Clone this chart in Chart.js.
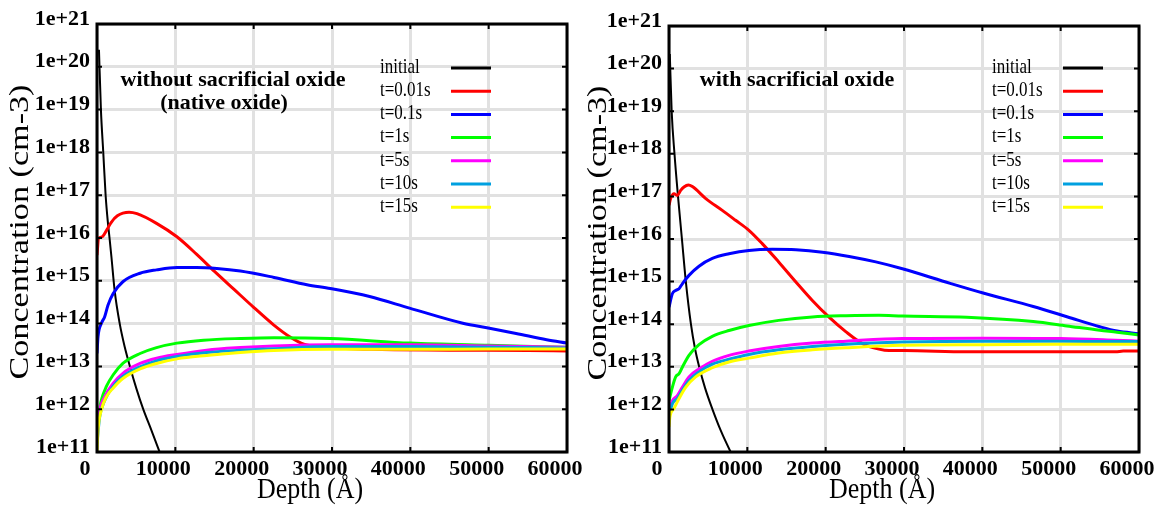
<!DOCTYPE html>
<html>
<head>
<meta charset="utf-8">
<title>Concentration vs depth</title>
<script src="https://cdn.jsdelivr.net/npm/chart.js@4.4.1/dist/chart.umd.min.js"></script>
<style>
  html, body { margin: 0; padding: 0; background: #fff; }
  #wrap { position: relative; width: 1157px; height: 506px; }
  #wrap canvas { position: absolute; top: 0; }
  #native { left: 0; }
  #sacrificial { left: 578px; }
</style>
</head>
<body>
<div id="wrap">
  <canvas id="native" width="592" height="506"></canvas>
  <canvas id="sacrificial" width="579" height="506"></canvas>
</div>
<script>
const serif = "'Liberation Serif', 'Times New Roman', serif";

const seriesLabels = ['initial', 't=0.01s', 't=0.1s', 't=1s', 't=5s', 't=10s', 't=15s'];
const seriesColors = ['#000000', '#ff0000', '#0000ff', '#00ff00', '#ff00ff', '#00a0e0', '#ffff00'];

const depthTicks = [0, 10000, 20000, 30000, 40000, 50000, 60000];
const concTicks = [1e11, 1e12, 1e13, 1e14, 1e15, 1e16, 1e17, 1e18, 1e19, 1e20, 1e21];
const concTickLabels = ['1e+11', '1e+12', '1e+13', '1e+14', '1e+15', '1e+16', '1e+17', '1e+18', '1e+19', '1e+20', '1e+21'];

// --- without sacrificial oxide (native oxide) ---
const natInitialDepth = [250, 500, 800, 1100, 1400, 1600, 1850, 2250, 2900, 3550, 4200, 5050, 5900, 6950, 7950, 8500];
const natInitialConc  = [2.5e20, 1e19, 1e18, 1e17, 2.2e16, 1e16, 3.5e15, 6e14, 1e14, 2.8e13, 1e13, 2.95e12, 1e12, 3.2e11, 1.05e11, 6e10];

const natT001Depth = [0, 200, 600, 900, 1300, 1800, 2600, 4100, 5100, 7600, 10200, 12700, 15000, 17500, 20000, 22500, 24700, 26400, 29000, 35000, 45000, 55000, 60000];
const natT001Conc  = [4e15, 9.8e15, 1.05e16, 1.2e16, 1.6e16, 2.3e16, 3.3e16, 4e16, 3.7e16, 2.2e16, 1.07e16, 4.2e15, 1.66e15, 6.3e14, 2.4e14, 9.5e13, 4.8e13, 3.3e13, 2.8e13, 2.5e13, 2.4e13, 2.35e13, 2.3e13];

const natT01Depth = [0, 130, 550, 980, 1400, 2050, 3300, 5500, 7600, 10200, 12700, 15300, 18300, 22600, 26800, 29800, 34800, 39900, 46700, 50100, 53500, 57400, 60000];
const natT01Conc  = [2e13, 4.9e13, 1e14, 1.45e14, 2.7e14, 5e14, 9.5e14, 1.5e15, 1.8e15, 2.05e15, 2.05e15, 1.95e15, 1.7e15, 1.2e15, 8.1e14, 6.6e14, 4.3e14, 2.3e14, 1.02e14, 7.8e13, 5.9e13, 4.2e13, 3.5e13];

const natT1Depth = [0, 550, 1200, 2050, 3300, 5500, 7600, 10200, 13600, 18300, 22600, 29800, 40000, 50000, 60000];
const natT1Conc  = [4.7e11, 1.6e12, 3.4e12, 6.3e12, 1.17e13, 2e13, 2.75e13, 3.5e13, 4.1e13, 4.5e13, 4.7e13, 4.5e13, 3.5e13, 3.1e13, 2.8e13];

const natT5Depth = [0, 340, 980, 2050, 3300, 5500, 7600, 10200, 14000, 18300, 22600, 29800, 40000, 50000, 60000];
const natT5Conc  = [3.2e11, 9.5e11, 1.95e12, 4e12, 6.9e12, 1.17e13, 1.55e13, 1.9e13, 2.4e13, 2.75e13, 3e13, 3.2e13, 3.2e13, 3e13, 2.8e13];

const natT10Depth = [0, 340, 980, 2050, 3300, 5500, 7600, 10200, 14000, 18300, 22600, 29800, 40000, 50000, 60000];
const natT10Conc  = [1.6e11, 6.6e11, 1.6e12, 3.4e12, 5.8e12, 9.8e12, 1.35e13, 1.7e13, 2.1e13, 2.4e13, 2.6e13, 2.9e13, 2.9e13, 2.8e13, 2.7e13];

const natT15Depth = [0, 130, 550, 1200, 2050, 3300, 5500, 7600, 10200, 14000, 18300, 22600, 29800, 40000, 50000, 60000];
const natT15Conc  = [1e11, 3.2e11, 9.5e11, 1.95e12, 3.1e12, 5.2e12, 8.7e12, 1.17e13, 1.5e13, 1.8e13, 2.1e13, 2.35e13, 2.5e13, 2.5e13, 2.55e13, 2.55e13];

// --- with sacrificial oxide ---
const sacInitialDepth = [100, 340, 700, 1150, 1650, 2150, 2800, 3300, 3850, 4600, 5550, 6600, 7870, 8500];
const sacInitialConc  = [2.2e20, 1e19, 1e18, 1e17, 1e16, 1e15, 1e14, 2.8e13, 1e13, 3.2e12, 1e12, 3.2e11, 1e11, 6e10];

const sacT001Depth = [0, 210, 640, 1060, 1490, 1910, 2470, 2980, 4700, 6800, 8500, 10200, 11900, 14000, 16200, 18300, 20400, 22600, 24700, 26800, 28100, 30000, 38000, 50000, 57000, 58000, 60000];
const sacT001Conc  = [6.2e16, 8.9e16, 1.15e17, 1.05e17, 1.38e17, 1.66e17, 1.86e17, 1.7e17, 8.9e16, 4.7e16, 2.75e16, 1.6e16, 7.8e15, 2.9e15, 9.8e14, 3.6e14, 1.48e14, 6.6e13, 3.5e13, 2.6e13, 2.4e13, 2.4e13, 2.25e13, 2.25e13, 2.25e13, 2.35e13, 2.35e13];

const sacT01Depth = [0, 425, 850, 1280, 1700, 2550, 3830, 5530, 7660, 10200, 13200, 16200, 19600, 23000, 26400, 29800, 35900, 40100, 46500, 50800, 55000, 57200, 60000];
const sacT01Conc  = [2.5e14, 5.2e14, 6.2e14, 6.8e14, 8.9e14, 1.4e15, 2.3e15, 3.5e15, 4.5e15, 5.4e15, 5.75e15, 5.6e15, 4.9e15, 3.9e15, 2.9e15, 2e15, 9.1e14, 5.4e14, 2.6e14, 1.5e14, 8.7e13, 6.9e13, 6e13];

const sacT1Depth = [0, 425, 850, 1280, 1700, 2550, 3830, 5530, 7660, 10200, 14000, 18300, 22600, 26800, 29800, 38000, 46500, 50800, 55000, 57200, 60000];
const sacT1Conc  = [1.6e12, 3.3e12, 5.8e12, 6.9e12, 9.8e12, 1.86e13, 3.3e13, 5.2e13, 7.1e13, 9.3e13, 1.23e14, 1.48e14, 1.58e14, 1.62e14, 1.55e14, 1.45e14, 1.15e14, 9.1e13, 7.2e13, 6.5e13, 5.6e13];

const sacT5Depth = [0, 425, 1060, 1700, 2550, 3830, 5530, 7660, 10200, 14000, 18300, 22600, 29800, 40000, 50000, 57000, 60000];
const sacT5Conc  = [9.5e11, 1.6e12, 2.1e12, 3.3e12, 5.8e12, 8.9e12, 1.35e13, 1.86e13, 2.35e13, 3e13, 3.6e13, 4e13, 4.6e13, 4.7e13, 4.6e13, 4.2e13, 4e13];

const sacT10Depth = [0, 425, 1060, 1700, 2550, 3830, 5530, 7660, 10200, 14000, 18300, 22600, 29800, 40000, 50000, 57000, 60000];
const sacT10Conc  = [6.6e11, 1.35e12, 1.8e12, 2.8e12, 4.8e12, 7.6e12, 1.15e13, 1.5e13, 1.95e13, 2.5e13, 3e13, 3.4e13, 3.8e13, 4e13, 4e13, 3.9e13, 3.9e13];

const sacT15Depth = [0, 120, 640, 1280, 2130, 3400, 5530, 7660, 10200, 14000, 18300, 22600, 29800, 40000, 50000, 60000];
const sacT15Conc  = [3.9e11, 6.6e11, 1.05e12, 1.8e12, 3.3e12, 5.8e12, 9.5e12, 1.3e13, 1.6e13, 2.1e13, 2.5e13, 2.8e13, 3.2e13, 3.3e13, 3.4e13, 3.4e13];

const nativeSeries = [
  [natInitialDepth, natInitialConc], [natT001Depth, natT001Conc], [natT01Depth, natT01Conc],
  [natT1Depth, natT1Conc], [natT5Depth, natT5Conc], [natT10Depth, natT10Conc], [natT15Depth, natT15Conc]
];
const sacSeries = [
  [sacInitialDepth, sacInitialConc], [sacT001Depth, sacT001Conc], [sacT01Depth, sacT01Conc],
  [sacT1Depth, sacT1Conc], [sacT5Depth, sacT5Conc], [sacT10Depth, sacT10Conc], [sacT15Depth, sacT15Conc]
];

// text squeezed like the old plotter output
function stretchedText(ctx, text, x, y, sx, sy, rot) {
  ctx.save();
  ctx.translate(x, y);
  if (rot) ctx.rotate(rot);
  ctx.scale(sx, sy);
  ctx.fillText(text, 0, 0);
  ctx.restore();
}

// box frame, inward ticks, axis titles, key and caption
const panelDecor = {
  id: 'panelDecor',
  afterDatasetsDraw(chart, args, opts) {
    const { ctx, chartArea: a } = chart;
    const xs = chart.scales.x, ys = chart.scales.y;
    ctx.save();

    ctx.strokeStyle = '#000';
    ctx.lineWidth = 2;
    ctx.beginPath();
    xs.ticks.forEach(t => {
      const px = xs.getPixelForValue(t.value);
      ctx.moveTo(px, a.bottom); ctx.lineTo(px, a.bottom - 5);
      ctx.moveTo(px, a.top); ctx.lineTo(px, a.top + 5);
    });
    ys.ticks.forEach(t => {
      const py = ys.getPixelForValue(t.value);
      ctx.moveTo(a.left, py); ctx.lineTo(a.left + 5, py);
      ctx.moveTo(a.right, py); ctx.lineTo(a.right - 5, py);
    });
    ctx.stroke();

    ctx.lineWidth = 3;
    ctx.strokeRect(a.left, a.top, a.right - a.left, a.bottom - a.top);

    // axis titles
    ctx.fillStyle = '#000';
    ctx.textAlign = 'center';
    ctx.textBaseline = 'alphabetic';
    ctx.font = '28px ' + serif;
    stretchedText(ctx, 'Concentration (cm-3)', 28, (a.top + a.bottom) / 2 - 6, 1.22, 1, -Math.PI / 2);
    ctx.font = '26px ' + serif;
    stretchedText(ctx, 'Depth (Å)', (a.left + a.right) / 2 - 22, chart.height - 8, 1, 1.15);

    // key: label on the left, line sample on the right
    const k = opts.key;
    ctx.font = '17px ' + serif;
    ctx.textAlign = 'left';
    ctx.textBaseline = 'middle';
    chart.data.datasets.forEach((ds, i) => {
      const y = a.top + k.rowTop + i * k.rowStep;
      ctx.fillStyle = '#000';
      stretchedText(ctx, ds.label, a.left + k.textX, y - 1, 1, 1.28);
      ctx.strokeStyle = ds.borderColor;
      ctx.lineWidth = 3;
      ctx.beginPath();
      ctx.moveTo(a.left + k.lineX0, y);
      ctx.lineTo(a.left + k.lineX1, y);
      ctx.stroke();
    });

    ctx.font = 'bold 22px ' + serif;
    ctx.textAlign = 'center';
    ctx.fillStyle = '#000';
    opts.caption.forEach(c => stretchedText(ctx, c.text, a.left + c.dx, a.top + c.dy, 1, 1));

    ctx.restore();
  }
};

function buildDatasets(pairs) {
  return pairs.map(([depth, conc], i) => ({
    label: seriesLabels[i],
    data: depth.map((d, j) => ({ x: d, y: conc[j] })),
    borderColor: seriesColors[i],
    backgroundColor: seriesColors[i],
    borderWidth: i === 0 ? 2 : 3,
    pointRadius: 0,
    cubicInterpolationMode: 'monotone',
    order: pairs.length - i
  }));
}

const tickFont = { family: serif, size: 22, weight: 'bold' };
const gridStyle = { color: '#e1e1e1', lineWidth: 3, drawTicks: false };

function makeChart(id, pairs, pad, axisWidth, decor) {
  return new Chart(document.getElementById(id), {
    type: 'line',
    data: { datasets: buildDatasets(pairs) },
    plugins: [panelDecor],
    options: {
      responsive: false,
      animation: false,
      layout: { padding: pad },
      plugins: {
        legend: { display: false },
        tooltip: { enabled: false },
        panelDecor: decor
      },
      scales: {
        x: {
          type: 'linear',
          min: 0,
          max: 60000,
          afterBuildTicks: s => { s.ticks = depthTicks.map(v => ({ value: v })); },
          afterFit: s => { s.height = 54; s.paddingLeft = 0; s.paddingRight = 0; },
          ticks: {
            font: tickFont, color: '#000', padding: 4, labelOffset: -12,
            maxRotation: 0, autoSkip: false,
            callback: v => String(v)
          },
          grid: gridStyle,
          border: { display: false }
        },
        y: {
          type: 'logarithmic',
          min: 1e11,
          max: 1e21,
          afterBuildTicks: s => { s.ticks = concTicks.map(v => ({ value: v })); },
          afterFit: s => { s.width = axisWidth; s.paddingTop = 0; s.paddingBottom = 0; },
          ticks: {
            font: tickFont, color: '#000', padding: 7, labelOffset: -5, autoSkip: false,
            callback: (v, i) => concTickLabels[i]
          },
          grid: gridStyle,
          border: { display: false }
        }
      }
    }
  });
}

makeChart('native', nativeSeries, { left: 0, right: 25, top: 24, bottom: 0 }, 97, {
  key: { textX: 283, lineX0: 354, lineX1: 394, rowTop: 44, rowStep: 23.2 },
  caption: [
    { text: 'without sacrificial oxide', dx: 136, dy: 56 },
    { text: '(native oxide)', dx: 127, dy: 79 }
  ]
});

makeChart('sacrificial', sacSeries, { left: 0, right: 18, top: 26, bottom: 0 }, 91, {
  key: { textX: 323, lineX0: 394, lineX1: 434, rowTop: 42, rowStep: 23.2 },
  caption: [
    { text: 'with sacrificial oxide', dx: 128, dy: 54 }
  ]
});
</script>
</body>
</html>
